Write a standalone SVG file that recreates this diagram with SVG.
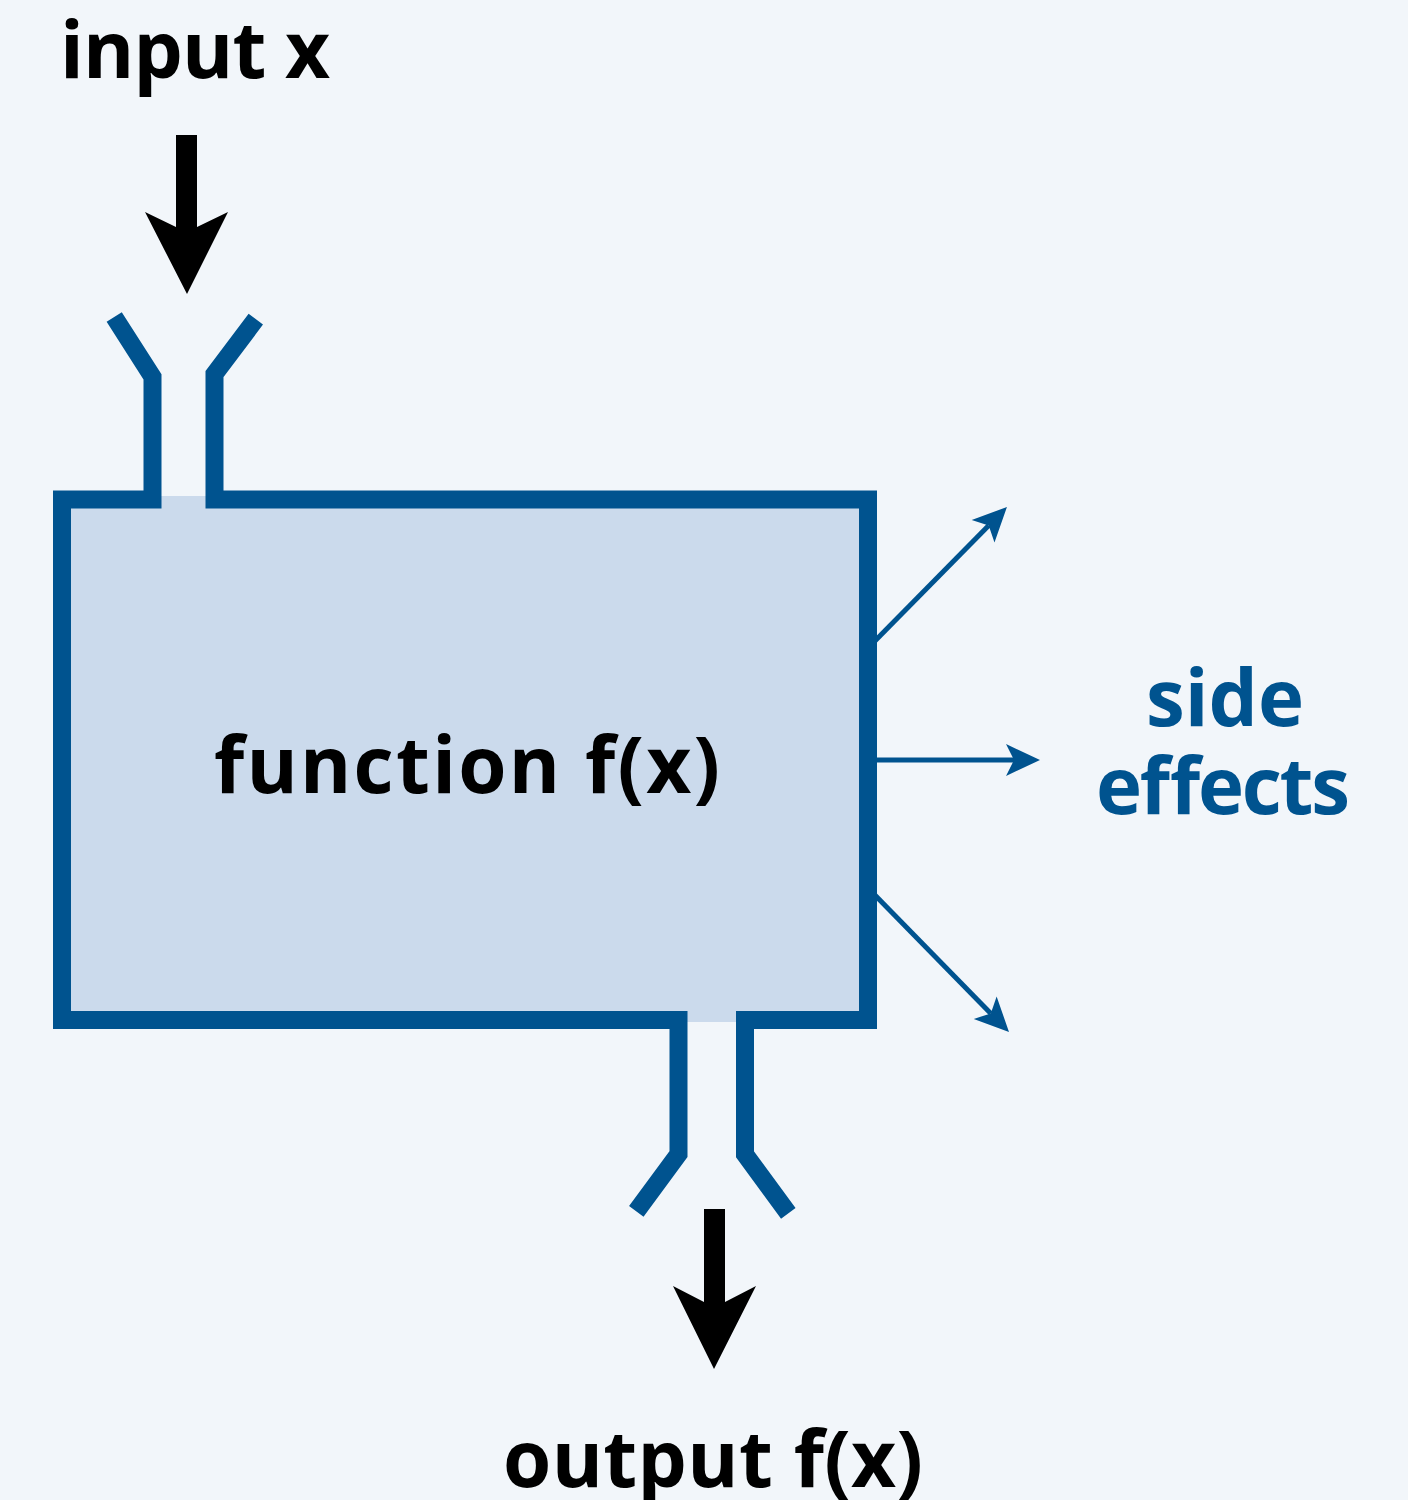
<svg xmlns="http://www.w3.org/2000/svg" width="1408" height="1500" viewBox="0 0 1408 1500">
  <style>
    .label { font-family: "Open Sans", "Noto Sans", "Liberation Sans", sans-serif; font-weight: 700; font-size: 78px; fill: #000; }
    .blue-label { fill: #00538F; }
    .wall { fill: none; stroke: #00538F; stroke-width: 18; stroke-linejoin: miter; stroke-linecap: butt; }
    .effect { fill: none; stroke: #00538F; stroke-width: 5; marker-end: url(#barb); }
    .big-arrow { fill: #000; }
  </style>
  <defs>
    <!-- barbed arrowhead; origin sits at the notch so the shaft ends under the head -->
    <marker id="barb" markerUnits="userSpaceOnUse" viewBox="-10 -20 40 40" markerWidth="40" markerHeight="40" refX="0" refY="0" orient="auto" overflow="visible">
      <path d="M26,0 L-8,-16 L0,0 L-8,16 Z" fill="#00538F"/>
    </marker>
  </defs>

  <rect width="1408" height="1500" fill="#F2F6FA"/>

  <!-- side-effect arrows leaving the right wall, plus the big in/out arrows -->
  <g id="connectors">
    <line class="effect" x1="868" y1="648" x2="988.7" y2="525.5"/>
    <line class="effect" x1="868" y1="760" x2="1014" y2="760"/>
    <line class="effect" x1="868" y1="888" x2="990.8" y2="1013.4"/>
    <polygon id="input-arrow" class="big-arrow" points="176,135 197,135 197,227 228,212 187,294 145,212 176,227"/>
    <polygon id="output-arrow" class="big-arrow" points="704,1209 725,1209 725,1302 756,1286 714,1369 673,1286 704,1302"/>
  </g>

  <!-- the function box with its input and output funnels -->
  <g id="function-box">
    <rect x="62" y="496" width="806" height="526" fill="#CBDAEC"/>
    <path class="wall" d="M114.2,317 L152.5,377 L152.5,499.5 L62,499.5 L62,1020 L678.5,1020 L678.5,1154 L636.3,1211.3"/>
    <path class="wall" d="M788.3,1213.3 L745,1154.4 L745,1020 L868,1020 L868,499.5 L214.5,499.5 L214.5,374 L255.8,319.2"/>
    <text class="label" x="214" y="793" textLength="506" lengthAdjust="spacing">function f(x)</text>
  </g>

  <g id="input-label">
    <text class="label" x="60" y="78" textLength="270" lengthAdjust="spacing">input x</text>
  </g>

  <g id="output-label">
    <text class="label" x="503" y="1487" textLength="420" lengthAdjust="spacing">output f(x)</text>
  </g>

  <g id="side-effects-label">
    <text class="label blue-label" x="1146" y="726" textLength="158" lengthAdjust="spacing">side</text>
    <text class="label blue-label" x="1096" y="814" textLength="254" lengthAdjust="spacing">effects</text>
  </g>
</svg>
